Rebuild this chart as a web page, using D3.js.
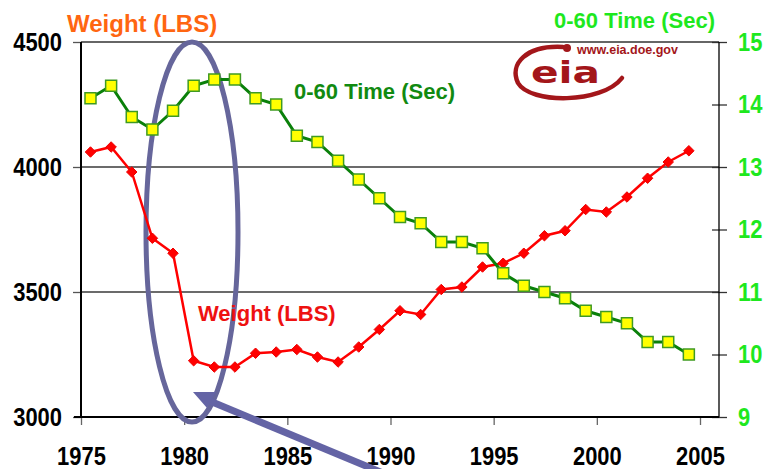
<!DOCTYPE html>
<html>
<head>
<meta charset="utf-8">
<script src="https://cdn.jsdelivr.net/npm/d3@7"></script>
<style>
  body { margin: 0; background: #fff; }
  svg { display: block; }
  .tick text { font-family: "Liberation Sans", Arial, sans-serif; font-weight: bold; }
</style>
</head>
<body>
<div id="chart"></div>
<script>
// model years (categories)
var years = [1975, 1976, 1977, 1978, 1979, 1980, 1981, 1982, 1983, 1984,
             1985, 1986, 1987, 1988, 1989, 1990, 1991, 1992, 1993, 1994,
             1995, 1996, 1997, 1998, 1999, 2000, 2001, 2002, 2003, 2004];

// average vehicle weight (lbs)
var weight = [4060, 4080, 3980, 3715, 3655, 3225, 3200, 3200, 3255, 3260,
              3270, 3240, 3220, 3280, 3350, 3425, 3410, 3510, 3520, 3600,
              3615, 3655, 3725, 3745, 3830, 3820, 3880, 3955, 4020, 4065];

// 0-60 acceleration time (sec)
var time060 = [14.1, 14.3, 13.8, 13.6, 13.9, 14.3, 14.4, 14.4, 14.1, 14.0,
               13.5, 13.4, 13.1, 12.8, 12.5, 12.2, 12.1, 11.8, 11.8, 11.7,
               11.3, 11.1, 11.0, 10.9, 10.7, 10.6, 10.5, 10.2, 10.2, 10.0];

var xTicks = [1975, 1980, 1985, 1990, 1995, 2000, 2005];
var leftTicks = [3000, 3500, 4000, 4500];
var rightTicks = [9, 10, 11, 12, 13, 14, 15];

var svgWidth = 766;
var svgHeight = 469;

var plot = { left: 81, right: 719, top: 42, bottom: 417 };

var svg = d3.select("#chart")
  .append("svg")
  .attr("width", svgWidth)
  .attr("height", svgHeight);

// scales
var xScale = d3.scaleLinear()
  .domain([1975, 2005])
  .range([plot.left, 700]);

var yLeft = d3.scaleLinear()
  .domain([3000, 4500])
  .range([plot.bottom, plot.top]);

var yRight = d3.scaleLinear()
  .domain([9, 15])
  .range([plot.bottom, plot.top]);

// points sit mid-year
var midYear = 0.46;

var data = years.map(function(y, i) {
  return { year: y, weight: weight[i], time: time060[i] };
});

// squeeze tick labels the way the condensed original font looks
function narrow(sel) {
  sel.attr("font-size", 25)
    .attr("textLength", d => String(d).length * 12.2)
    .attr("lengthAdjust", "spacingAndGlyphs");
}

// gridlines
svg.append("g")
  .selectAll("line")
  .data(leftTicks.filter(d => d > 3000 && d < 4500))
  .enter()
  .append("line")
  .attr("x1", plot.left)
  .attr("x2", plot.right)
  .attr("y1", d => yLeft(d))
  .attr("y2", d => yLeft(d))
  .attr("stroke", "#3a3a3a")
  .attr("stroke-width", 1.3);

// axes
var leftAxis = svg.append("g")
  .attr("transform", `translate(${plot.left},0)`)
  .call(d3.axisLeft(yLeft).tickValues(leftTicks).tickSize(8).tickPadding(11).tickFormat(d3.format("d")));
leftAxis.select(".domain").remove();
leftAxis.selectAll(".tick line").attr("stroke", "#555").attr("stroke-width", 1.3);
leftAxis.selectAll(".tick text").call(narrow).attr("fill", "#000");

var rightAxis = svg.append("g")
  .attr("transform", `translate(${plot.right},0)`)
  .call(d3.axisRight(yRight).tickValues(rightTicks).tickSize(8).tickPadding(11).tickFormat(d3.format("d")));
rightAxis.select(".domain").remove();
rightAxis.selectAll(".tick line").attr("x1", -7).attr("stroke", "#333").attr("stroke-width", 1.3);
rightAxis.selectAll(".tick text").call(narrow).attr("fill", "#1ee81e");

var bottomAxis = svg.append("g")
  .attr("transform", `translate(0,${plot.bottom})`)
  .call(d3.axisBottom(xScale).tickValues(xTicks).tickSize(8).tickPadding(22).tickFormat(d3.format("d")));
bottomAxis.select(".domain").remove();
bottomAxis.selectAll(".tick line").attr("stroke", "#666").attr("stroke-width", 1.3);
bottomAxis.selectAll(".tick text").call(narrow).attr("fill", "#000");

// frame lines
svg.append("line")
  .attr("x1", plot.left).attr("x2", plot.right)
  .attr("y1", plot.top).attr("y2", plot.top)
  .attr("stroke", "#333").attr("stroke-width", 1.5);
svg.append("line")
  .attr("x1", plot.left).attr("x2", plot.left)
  .attr("y1", plot.top).attr("y2", plot.bottom)
  .attr("stroke", "#000").attr("stroke-width", 2);
svg.append("line")
  .attr("x1", plot.right).attr("x2", plot.right)
  .attr("y1", plot.top).attr("y2", plot.bottom)
  .attr("stroke", "#000").attr("stroke-width", 1.3);
svg.append("line")
  .attr("x1", plot.left - 7).attr("x2", plot.right)
  .attr("y1", plot.bottom).attr("y2", plot.bottom)
  .attr("stroke", "#000").attr("stroke-width", 2);

// eia logo
var logo = svg.append("g");
logo.append("path")
  .attr("d", "M563,47 C526,45 509,64 518,83 C530,104 602,104 622,78")
  .attr("fill", "none")
  .attr("stroke", "#a3161a")
  .attr("stroke-width", 4.5)
  .attr("stroke-linecap", "round");
logo.append("circle")
  .attr("cx", 567).attr("cy", 48).attr("r", 4)
  .attr("fill", "#a3161a");
logo.append("text")
  .attr("x", 531).attr("y", 83)
  .attr("textLength", 69)
  .attr("lengthAdjust", "spacingAndGlyphs")
  .attr("font-family", "DejaVu Sans")
  .attr("font-weight", "bold")
  .attr("font-size", 31)
  .attr("fill", "#a3161a")
  .text("eia");
logo.append("text")
  .attr("x", 577).attr("y", 54)
  .attr("font-family", "Liberation Sans, Arial, sans-serif")
  .attr("font-weight", "bold")
  .attr("font-size", 12.5)
  .attr("fill", "#a3161a")
  .text("www.eia.doe.gov");

// circled annotation
svg.append("ellipse")
  .attr("cx", 192).attr("cy", 232)
  .attr("rx", 46).attr("ry", 190)
  .attr("fill", "none")
  .attr("stroke", "#66669b")
  .attr("stroke-width", 5);

// weight line
var weightLine = d3.line()
  .x(d => xScale(d.year + midYear))
  .y(d => yLeft(d.weight));

svg.append("path")
  .datum(data)
  .attr("d", weightLine)
  .attr("fill", "none")
  .attr("stroke", "#ff0000")
  .attr("stroke-width", 2.5);

svg.append("g")
  .selectAll("path")
  .data(data)
  .enter()
  .append("path")
  .attr("d", d3.symbol().type(d3.symbolDiamond2).size(70))
  .attr("transform", d => `translate(${xScale(d.year + midYear)},${yLeft(d.weight)})`)
  .attr("fill", "#ff0000")
  .attr("stroke", "#ee0000")
  .attr("stroke-width", 1);

// 0-60 line
var timeLine = d3.line()
  .x(d => xScale(d.year + midYear))
  .y(d => yRight(d.time));

svg.append("path")
  .datum(data)
  .attr("d", timeLine)
  .attr("fill", "none")
  .attr("stroke", "#0a800a")
  .attr("stroke-width", 3);

svg.append("g")
  .selectAll("rect")
  .data(data)
  .enter()
  .append("rect")
  .attr("x", d => xScale(d.year + midYear) - 5.5)
  .attr("y", d => yRight(d.time) - 5.5)
  .attr("width", 11)
  .attr("height", 11)
  .attr("fill", "#ffff00")
  .attr("stroke", "#3f9a22")
  .attr("stroke-width", 1.5);

// titles
svg.append("text")
  .attr("x", 67).attr("y", 32)
  .attr("font-family", "Liberation Sans, Arial, sans-serif")
  .attr("font-weight", "bold")
  .attr("font-size", 24)
  .attr("fill", "#ff6611")
  .text("Weight (LBS)");

svg.append("text")
  .attr("x", 715).attr("y", 28)
  .attr("text-anchor", "end")
  .attr("font-family", "Liberation Sans, Arial, sans-serif")
  .attr("font-weight", "bold")
  .attr("font-size", 22)
  .attr("fill", "#1ee81e")
  .text("0-60 Time (Sec)");

svg.append("text")
  .attr("x", 294).attr("y", 99)
  .attr("font-family", "Liberation Sans, Arial, sans-serif")
  .attr("font-weight", "bold")
  .attr("font-size", 22)
  .attr("fill", "#118a11")
  .text("0-60 Time (Sec)");

svg.append("text")
  .attr("x", 198).attr("y", 321)
  .attr("font-family", "Liberation Sans, Arial, sans-serif")
  .attr("font-weight", "bold")
  .attr("font-size", 22)
  .attr("fill", "#ee1111")
  .text("Weight (LBS)");

// arrow pointing at 1980
var arrow = svg.append("g").attr("fill", "#6464a5");
arrow.append("line")
  .attr("x1", 390).attr("y1", 476)
  .attr("x2", 205).attr("y2", 399)
  .attr("stroke", "#6464a5")
  .attr("stroke-width", 7);
arrow.append("path")
  .attr("d", "M193,392 L216,392 L207,408 Z");
</script>
</body>
</html>
